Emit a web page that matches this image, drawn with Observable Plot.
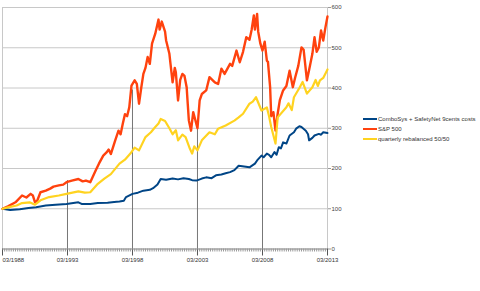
<!DOCTYPE html>
<html>
<head>
<meta charset="utf-8">
<script src="https://cdn.jsdelivr.net/npm/d3@7"></script>
<script src="https://cdn.jsdelivr.net/npm/@observablehq/plot@0.6"></script>
<style>
  html, body { margin: 0; padding: 0; background: #fff; }
  #wrap { position: relative; width: 480px; height: 291px; overflow: hidden; font-family: "Liberation Sans", Arial, sans-serif; }
  #legend { position: absolute; left: 363px; top: 114px; font-size: 6px; color: #333; line-height: 10px; }
  #legend .row { display: flex; align-items: center; white-space: nowrap; height: 10px; }
  #legend .sw { width: 14px; height: 2px; margin-right: 1px; }
</style>
</head>
<body>
<div id="wrap"></div>
<script>
// Series names
const seriesNames = ["ComboSys + SafetyNet 9cents costs", "S&P 500", "quarterly rebalanced 50/50"];
const seriesColors = ["#004586", "#ff420e", "#ffd320"];

// S&P 500
const spDates = ["1988-03","1988-08","1989-03","1989-09","1990-01","1990-05","1990-07","1990-09","1990-11","1991-02","1991-07","1991-11","1992-02","1992-07","1992-11","1993-02","1993-07","1994-01","1994-05","1994-08","1994-12","1995-05","1995-08","1995-12","1996-03","1996-05","1996-07","1996-11","1997-02","1997-04","1997-06","1997-08","1997-10","1997-12","1998-02","1998-05","1998-07","1998-09","1998-11","1999-01","1999-03","1999-05","1999-07","1999-09","1999-12","2000-03","2000-04","2000-06","2000-09","2000-10","2001-01","2001-02","2001-04","2001-06","2001-07","2001-09","2001-11","2002-01","2002-03","2002-05","2002-06","2002-07","2002-09","2002-11","2003-01","2003-03","2003-05","2003-07","2003-11","2004-02","2004-07","2004-10","2005-01","2005-04","2005-09","2005-11","2006-03","2006-06","2006-09","2006-12","2007-03","2007-05","2007-07","2007-08","2007-10","2007-11","2008-01","2008-03","2008-05","2008-07","2008-08","2008-10","2008-11","2009-01","2009-03","2009-05","2009-07","2009-10","2010-01","2010-04","2010-07","2010-09","2010-12","2011-03","2011-05","2011-08","2011-10","2012-01","2012-03","2012-05","2012-07","2012-09","2012-11","2013-01","2013-03"];
const spValues = [100,106,116,133,128,137,133,116,120,141,145,150,155,158,160,166,170,174,168,170,166,195,212,232,240,247,236,270,294,285,311,335,330,352,406,419,410,361,400,435,450,477,460,510,535,570,545,565,540,518,485,460,414,450,439,369,420,435,430,402,360,320,294,340,320,300,369,385,394,427,414,410,448,435,460,455,493,464,490,526,520,545,580,545,584,540,510,493,515,468,465,402,330,340,294,336,370,394,405,443,402,425,455,501,495,419,445,485,526,490,501,543,518,550,578];

// quarterly rebalanced 50/50
const mixDates = ["1988-03","1988-09","1989-04","1989-09","1990-04","1990-09","1991-02","1991-10","1992-07","1993-02","1994-01","1994-07","1994-12","1995-07","1996-01","1996-07","1997-03","1997-08","1998-01","1998-05","1998-09","1999-03","1999-08","1999-12","2000-03","2000-05","2000-09","2001-01","2001-04","2001-07","2001-09","2002-01","2002-04","2002-08","2002-10","2002-12","2003-03","2003-07","2004-02","2004-07","2004-10","2005-05","2006-01","2006-05","2006-09","2007-03","2007-06","2007-09","2008-02","2008-07","2008-09","2008-11","2009-03","2009-05","2010-01","2010-03","2010-06","2010-08","2011-01","2011-04","2011-08","2012-01","2012-04","2012-06","2012-08","2012-11","2013-03"];
const mixValues = [100,104,108,114,116,110,121,129,133,137,143,140,141,162,175,186,212,222,237,252,245,278,290,303,312,323,318,300,285,295,270,284,278,249,237,255,245,270,290,285,299,307,319,327,336,361,366,377,344,352,330,303,262,327,352,362,345,377,400,415,386,402,420,405,419,425,446];

// ComboSys + SafetyNet 9cents costs
const comboDates = ["1988-03","1988-10","1989-07","1990-03","1990-10","1991-07","1992-04","1993-02","1994-01","1994-04","1994-12","1995-07","1996-04","1996-10","1997-03","1997-07","1997-09","1998-03","1998-08","1999-01","1999-07","1999-10","2000-02","2000-05","2000-10","2001-04","2001-09","2002-02","2002-07","2002-10","2003-02","2003-07","2003-11","2004-04","2004-08","2005-01","2005-05","2005-09","2006-01","2006-05","2006-10","2007-03","2007-08","2007-10","2008-02","2008-04","2008-07","2008-09","2008-11","2009-02","2009-04","2009-06","2009-08","2009-10","2010-01","2010-04","2010-08","2010-10","2011-01","2011-03","2011-07","2011-09","2011-10","2012-01","2012-03","2012-07","2012-09","2012-11","2013-03"];
const comboValues = [100,97,99,102,104,108,110,112,116,112,112,114,115,117,118,120,129,137,140,145,147,151,160,174,172,175,173,176,174,171,170,175,178,176,183,185,188,191,196,207,205,203,212,220,232,228,237,234,228,241,234,253,250,265,262,282,290,299,305,303,294,285,270,276,282,286,284,290,288];

// Major x ticks and drop-line tops (S&P level at those dates)
const majorTicks = ["1988-03","1993-03","1998-03","2003-03","2008-03","2013-03"];
const majorLabels = ["03/1988","03/1993","03/1998","03/2003","03/2008","03/2013"];
const dropDates = ["1993-03","1998-03","2003-03","2008-03"];
const dropTops = [170, 395, 305, 490];
const yTicks = [0,100,200,300,400,500,600];

const parse = d3.utcParse("%Y-%m");
const toRows = (dates, vals, name) => dates.map((d, i) => ({date: parse(d), value: vals[i], series: name}));
const combo = toRows(comboDates, comboValues, seriesNames[0]);
const sp = toRows(spDates, spValues, seriesNames[1]);
const mix = toRows(mixDates, mixValues, seriesNames[2]);

const start = parse(majorTicks[0]);
const end = parse(majorTicks[majorTicks.length - 1]);
const minorTicks = d3.utcMonth.every(2).range(start, d3.utcMonth.offset(end, 1));
const majorDates = majorTicks.map(parse);
const labelMap = new Map(majorDates.map((d, i) => [+d, majorLabels[i]]));

const chart = Plot.plot({
  width: 480,
  height: 291,
  marginLeft: 2,
  marginRight: 153,
  marginTop: 7,
  marginBottom: 42.5,
  style: {fontFamily: "Liberation Sans, Arial, sans-serif", fontSize: "6px", color: "#333", background: "#fff"},
  x: {type: "utc", domain: [start, end]},
  y: {domain: [0, 600]},
  marks: [
    Plot.gridY(yTicks, {stroke: "#c8c8c8", strokeOpacity: 1}),
    Plot.ruleX([start, end], {stroke: "#c8c8c8"}),
    Plot.axisX({ticks: minorTicks, tickSize: 3, text: null, stroke: "#999"}),
    Plot.axisX({ticks: majorDates, tickSize: 7, tickPadding: 2, stroke: "#555", text: null}),
    Plot.axisX({ticks: majorDates.slice(0, 1), tickSize: 0, tickPadding: 9, tickFormat: d => labelMap.get(+d), fill: "#333", textAnchor: "start"}),
    Plot.axisX({ticks: majorDates.slice(1), tickSize: 0, tickPadding: 9, tickFormat: d => labelMap.get(+d), fill: "#333"}),
    Plot.ruleY([0], {stroke: "#999"}),
    Plot.ruleX(dropDates.map(parse), {y1: 0, y2: dropTops, stroke: "#777", strokeWidth: 1}),
    Plot.axisY({anchor: "right", ticks: yTicks, tickSize: 3, tickPadding: 1, stroke: "#999", fill: "#444", label: null}),
    Plot.lineY(combo, {x: "date", y: "value", stroke: seriesColors[0], strokeWidth: 2}),
    Plot.lineY(sp, {x: "date", y: "value", stroke: seriesColors[1], strokeWidth: 2.4}),
    Plot.lineY(mix, {x: "date", y: "value", stroke: seriesColors[2], strokeWidth: 2.2})
  ]
});

const wrap = document.getElementById("wrap");
wrap.appendChild(chart);
const legend = document.createElement("div");
legend.id = "legend";
seriesNames.forEach((n, i) => {
  const row = document.createElement("div");
  row.className = "row";
  const sw = document.createElement("span");
  sw.className = "sw";
  sw.style.background = seriesColors[i];
  const t = document.createElement("span");
  t.textContent = n;
  row.appendChild(sw);
  row.appendChild(t);
  legend.appendChild(row);
});
wrap.appendChild(legend);
</script>
</body>
</html>
